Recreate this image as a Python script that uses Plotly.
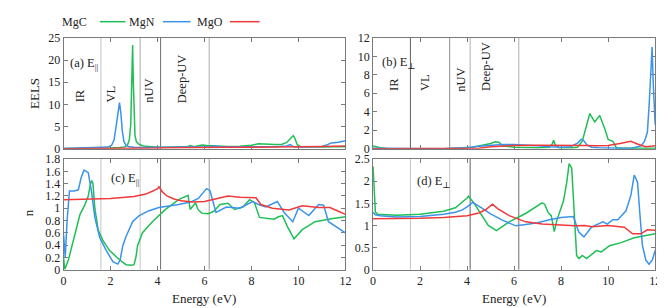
import plotly.graph_objects as go

# ---------------- data ----------------
energy_ticks = [0, 2, 4, 6, 8, 10, 12]
region_bounds = [1.59, 3.26, 4.13, 6.2]
region_names = ["IR", "VL", "nUV", "Deep-UV"]
region_pos_a = [0.70, 2.03, 3.64, 5.04]
region_pos_b = [0.90, 2.22, 3.76, 4.81]
series_names = ["MgC", "MgN", "MgO"]

# (a) EELS, E parallel
a_mgc_x = [0, 0.5, 1.0, 1.5, 2.0, 2.4, 2.6, 2.72, 2.8, 2.86, 2.9, 2.94, 2.97, 3.0, 3.04, 3.1, 3.2, 3.4, 3.7, 4.0,
           4.5, 5.0, 5.3, 5.4, 5.55, 5.7, 5.9, 6.1, 6.5, 7.0, 7.5, 8.0, 8.3, 8.6, 9.0, 9.3, 9.5, 9.7, 9.78, 9.85,
           9.95, 10.1, 10.5, 11.0, 11.5, 12.0]
a_mgc_y = [0.05, 0.05, 0.08, 0.1, 0.15, 0.25, 0.4, 0.8, 2.0, 5.5, 12.0, 23.4, 15.0, 6.5, 3.0, 1.6, 1.0, 0.6, 0.4, 0.3,
           0.3, 0.35, 0.5, 0.7, 0.45, 0.6, 0.8, 0.7, 0.55, 0.5, 0.55, 0.75, 1.1, 1.0, 0.95, 1.0, 1.4, 2.5, 2.9, 2.3,
           0.9, 0.4, 0.35, 0.35, 0.4, 0.4]
a_mgn_x = [0, 0.5, 1.0, 1.5, 1.9, 2.05, 2.15, 2.25, 2.32, 2.38, 2.44, 2.5, 2.57, 2.65, 2.8, 3.0, 3.5, 4.0, 5.0, 5.5,
           6.0, 6.3, 6.45, 6.6, 7.0, 8.0, 9.0, 9.5, 9.65, 9.8, 10.0, 10.5, 11.0, 11.2, 11.4, 11.7, 12.0]
a_mgn_y = [0.05, 0.15, 0.2, 0.25, 0.35, 0.8, 2.0, 5.5, 8.8, 10.4, 8.0, 4.0, 1.6, 0.8, 0.4, 0.3, 0.25, 0.25, 0.3, 0.4,
           0.4, 0.5, 0.65, 0.45, 0.4, 0.4, 0.45, 0.6, 0.9, 0.4, 0.35, 0.5, 0.5, 0.8, 1.3, 1.45, 1.8]
a_mgo_x = [0, 1, 2, 3, 3.5, 4.0, 4.5, 5.0, 6.0, 7.0, 8.0, 9.0, 10.0, 10.5, 11.0, 11.5, 12.0]
a_mgo_y = [0.0, 0.0, 0.0, 0.02, 0.05, 0.12, 0.2, 0.25, 0.3, 0.3, 0.3, 0.32, 0.35, 0.4, 0.5, 0.55, 0.6]

# (b) EELS, E perpendicular
b_mgc_x = [0, 0.3, 0.6, 1, 2, 3, 3.8, 4.2, 4.6, 5.0, 5.2, 5.35, 5.5, 6.0, 7.0, 7.5, 7.62, 7.68, 7.75, 7.9,
           8.5, 8.7, 8.9, 9.05, 9.22, 9.43, 9.64, 9.85, 10.0, 10.2, 10.35, 10.6, 11, 12]
b_mgc_y = [0.3, 0.1, 0.02, 0.0, 0.0, 0.0, 0.05, 0.15, 0.35, 0.55, 0.75, 0.7, 0.3, 0.15, 0.1, 0.15, 0.5, 0.9, 0.4, 0.1,
           0.1, 0.15, 0.8, 2.2, 3.8, 2.9, 3.6, 2.2, 1.0, 0.8, 0.1, 0.05, 0.05, 0.05]
b_mgn_x = [0, 1, 2, 3, 3.5, 4.0, 4.5, 5.0, 5.5, 6.0, 6.5, 7.0, 7.5, 8.0, 8.4, 8.7, 8.85, 8.95, 9.1, 9.3,
           9.6, 10, 10.5, 11.0, 11.4, 11.55, 11.67, 11.75, 11.82, 11.87, 11.92, 11.96, 12.0]
b_mgn_y = [0.05, 0.02, 0.0, 0.0, 0.05, 0.1, 0.25, 0.35, 0.45, 0.45, 0.4, 0.3, 0.2, 0.15, 0.2, 0.6, 1.0, 0.9, 0.4, 0.15,
           0.1, 0.05, 0.05, 0.05, 0.3, 0.8, 1.8, 5.0, 9.5, 11.0, 7.0, 4.0, 2.6]
b_mgo_x = [0, 1, 2, 3, 4, 4.5, 5.0, 5.5, 6.0, 7.0, 8.0, 9.0, 9.5, 10.0, 10.5, 10.97, 11.3, 11.6, 12.0]
b_mgo_y = [0.0, 0.0, 0.0, 0.0, 0.02, 0.05, 0.2, 0.3, 0.35, 0.38, 0.4, 0.35, 0.3, 0.35, 0.55, 0.8, 0.45, 0.2, 0.3]

# (c) refractive index n, E parallel
c_mgc_x = [0, 0.05, 0.2, 0.42, 0.7, 0.9, 1.05, 1.15, 1.2, 1.25, 1.33, 1.47, 1.68, 1.96, 2.38, 2.66, 2.87, 3.0, 3.08,
           3.15, 3.36, 3.78, 4.34, 4.9, 5.2, 5.3, 5.39, 5.53, 5.62, 5.72, 5.88, 6.16, 6.4, 6.66, 7.0, 7.28, 7.63,
           7.92, 8.13, 8.34, 8.68, 8.96, 9.15, 9.32, 9.53, 9.81, 10.16, 10.71, 11.4, 12.0]
c_mgc_y = [0.2, 0.0, 0.15, 0.5, 0.9, 1.05, 1.2, 1.4, 1.45, 1.4, 1.0, 0.65, 0.47, 0.31, 0.16, 0.08, 0.07, 0.08, 0.2,
           0.39, 0.6, 0.78, 0.98, 1.14, 1.2, 1.21, 0.98, 1.05, 1.09, 0.98, 0.92, 0.91, 0.95, 1.06, 1.08, 0.98, 1.02,
           1.14, 1.09, 0.85, 0.84, 0.82, 0.86, 0.88, 0.7, 0.5, 0.65, 0.78, 0.83, 0.86]
c_mgn_x = [0, 0.07, 0.15, 0.25, 0.45, 0.63, 0.75, 0.87, 1.05, 1.19, 1.33, 1.54, 1.82, 2.1, 2.31, 2.41, 2.52, 2.66,
           2.94, 3.22, 3.64, 4.06, 4.9, 5.4, 5.74, 6.09, 6.23, 6.35, 6.49, 6.93, 7.5, 8.05, 8.3, 8.61, 9.1, 9.39,
           9.76, 10.0, 10.44, 10.86, 11.07, 11.28, 11.49, 12.0]
c_mgn_y = [0.57, 0.2, 0.8, 1.28, 1.28, 1.3, 1.5, 1.62, 1.58, 1.27, 0.85, 0.52, 0.31, 0.13, 0.09, 0.16, 0.39, 0.54,
           0.78, 0.88, 0.96, 1.01, 1.06, 1.1, 1.16, 1.32, 1.29, 1.1, 0.93, 1.02, 1.0, 1.11, 1.06, 1.02, 1.11, 0.93,
           0.78, 1.0, 0.88, 1.06, 1.05, 0.78, 0.73, 0.6]
c_mgo_x = [0, 1, 2, 3, 3.5, 3.8, 4.0, 4.06, 4.2, 4.4, 4.7, 5.0, 5.5, 6.0, 6.5, 7.0, 7.5, 8.19, 8.4, 8.89, 9.6, 10.16,
           10.86, 11.34, 11.7, 12.0]
c_mgo_y = [1.14, 1.15, 1.16, 1.19, 1.23, 1.28, 1.32, 1.35, 1.27, 1.2, 1.15, 1.12, 1.1, 1.11, 1.15, 1.2, 1.18, 1.17,
           1.06, 1.0, 0.97, 1.04, 1.01, 1.01, 0.95, 0.9]

# (d) refractive index n, E perpendicular
d_mgc_x = [0, 0.05, 0.1, 0.2, 0.5, 1, 2, 3, 3.5, 3.8, 4.0, 4.06, 4.3, 4.6, 4.9, 5.25, 5.5, 5.79, 6.49, 7.19, 7.3,
           7.44, 7.58, 7.71, 7.82, 8.1, 8.24, 8.34, 8.45, 8.55, 8.66, 8.76, 8.9, 9.08, 9.5, 9.71, 10.06, 10.55,
           11.11, 12.0]
d_mgc_y = [2.34, 1.6, 1.3, 1.25, 1.24, 1.23, 1.25, 1.32, 1.4, 1.52, 1.62, 1.66, 1.5, 1.25, 1.0, 0.88, 0.97, 1.08,
           1.27, 1.51, 1.48, 1.3, 1.22, 0.86, 1.12, 1.55, 1.98, 2.4, 2.3, 1.19, 0.32, 0.25, 0.32, 0.25, 0.43, 0.4,
           0.54, 0.61, 0.72, 0.81]
d_mgn_x = [0, 0.1, 0.3, 1, 2, 3, 3.5, 3.8, 4.0, 4.24, 4.6, 5.0, 5.5, 5.9, 6.07, 6.5, 7.0, 7.5, 8.0, 8.52, 8.62,
           8.75, 8.97, 9.29, 9.78, 9.96, 10.2, 10.41, 10.76, 10.97, 11.11, 11.25, 11.36, 11.46, 11.6, 11.74,
           11.88, 12.0]
d_mgn_y = [1.3, 1.24, 1.22, 1.19, 1.2, 1.25, 1.3, 1.35, 1.42, 1.52, 1.4, 1.26, 1.12, 1.03, 0.99, 1.02, 1.06, 1.13,
           1.18, 1.2, 1.05, 0.85, 0.74, 0.96, 1.08, 1.03, 1.13, 1.13, 1.33, 1.69, 2.14, 1.98, 1.19, 0.54, 0.22,
           0.12, 0.22, 0.43]
d_mgo_x = [0, 1, 2, 3, 4, 4.5, 4.8, 5.08, 5.3, 5.79, 6.49, 7.19, 8.59, 9.0, 9.3, 10.0, 10.27, 10.69, 11.04, 11.38,
           11.67, 12.0]
d_mgo_y = [1.15, 1.15, 1.16, 1.18, 1.22, 1.28, 1.36, 1.48, 1.38, 1.22, 1.08, 1.03, 0.99, 1.0, 0.97, 1.0, 0.99, 0.96,
           0.81, 0.81, 0.9, 0.89]

# ---------------- styling ----------------
W, H = 665, 308
FONT = "'Liberation Serif', 'Times New Roman', 'DejaVu Serif', serif"
TXT = "#222222"
AXC = "#7a7a7a"
TICK_SIZE = 12
TEXT_SIZE = 12.5
colors = {"MgC": "#1fbf55", "MgN": "#3b93ec", "MgO": "#f03a3a"}

fig = go.Figure()

panels = [
    ("x", "y", [(a_mgc_x, a_mgc_y), (a_mgn_x, a_mgn_y), (a_mgo_x, a_mgo_y)]),
    ("x2", "y2", [(b_mgc_x, b_mgc_y), (b_mgn_x, b_mgn_y), (b_mgo_x, b_mgo_y)]),
    ("x3", "y3", [(c_mgc_x, c_mgc_y), (c_mgn_x, c_mgn_y), (c_mgo_x, c_mgo_y)]),
    ("x4", "y4", [(d_mgc_x, d_mgc_y), (d_mgn_x, d_mgn_y), (d_mgo_x, d_mgo_y)]),
]
for xa, ya, data in panels:
    for name, (xs, ys) in zip(series_names, data):
        fig.add_trace(go.Scatter(x=xs, y=ys, mode="lines", name=name, xaxis=xa, yaxis=ya,
                                 line=dict(color=colors[name], width=1.5), showlegend=False))

def px_x(p):
    return p / W

def px_y(p):
    return 1 - p / H

dom_left = [px_x(53.3), px_x(339)]
dom_right = [px_x(367), px_x(653)]
dom_top = [px_y(140), px_y(24)]
dom_bot = [px_y(266.7), px_y(151)]

def xaxis(domain, anchor, labels):
    return dict(domain=domain, anchor=anchor, range=[0, 12], tickvals=energy_ticks,
                showticklabels=labels, ticks="inside", ticklen=4, tickcolor=AXC,
                showline=True, linecolor=AXC, linewidth=1, mirror="allticks",
                showgrid=False, zeroline=False, layer="below traces",
                tickfont=dict(family=FONT, size=TICK_SIZE, color=TXT))

def yaxis(domain, anchor, rng, dt):
    return dict(domain=domain, anchor=anchor, range=rng, dtick=dt, tick0=0,
                ticks="inside", ticklen=4, tickcolor=AXC,
                showline=True, linecolor=AXC, linewidth=1, mirror="allticks",
                showgrid=False, zeroline=False, layer="below traces",
                tickfont=dict(family=FONT, size=TICK_SIZE, color=TXT))

fig.update_layout(
    width=W, height=H, margin=dict(l=0, r=0, t=0, b=0),
    paper_bgcolor="white", plot_bgcolor="white", showlegend=False,
    font=dict(family=FONT, size=TEXT_SIZE, color=TXT),
    xaxis=xaxis(dom_left, "y", False), yaxis=yaxis(dom_top, "x", [0, 25], 5),
    xaxis2=xaxis(dom_right, "y2", False), yaxis2=yaxis(dom_top, "x2", [0, 12], 2),
    xaxis3=xaxis(dom_left, "y3", True), yaxis3=yaxis(dom_bot, "x3", [0, 1.8], 0.2),
    xaxis4=xaxis(dom_right, "y4", True), yaxis4=yaxis(dom_bot, "x4", [0, 2.5], 0.5),
)

# region boundary lines
bound_colors = {
    "x": ["#c4c4c4", "#a8a8a8", "#6e6e6e", "#ababab"],
    "x2": ["#5f5f5f", "#8f8f8f", "#b0b0b0", "#b0b0b0"],
    "x3": ["#c4c4c4", "#c4c4c4", "#6e6e6e", "#9a9a9a"],
    "x4": ["#c4c4c4", "#c4c4c4", "#5f5f5f", "#6e6e6e"],
}
ymap = {"x": "y", "x2": "y2", "x3": "y3", "x4": "y4"}
shapes = []
for xa, cols in bound_colors.items():
    for b, c in zip(region_bounds, cols):
        shapes.append(dict(type="line", xref=xa, yref=ymap[xa] + " domain", x0=b, x1=b, y0=0, y1=1,
                           line=dict(color=c, width=1), layer="below"))

annotations = []
# region names
for xs, ya, ybase in [(region_pos_a, "y", 9.9), (region_pos_b, "y2", 6.0)]:
    xa = "x" if ya == "y" else "x2"
    for nm, xv in zip(region_names, xs):
        annotations.append(dict(text=nm, x=xv, y=ybase, xref=xa, yref=ya, textangle=-90,
                                xanchor="center", yanchor="bottom", showarrow=False,
                                font=dict(family=FONT, size=TEXT_SIZE, color=TXT)))

# panel labels
for txt, xv, yv, xa, ya in [("(a) E<sub>||</sub>", 0.2, 19.0, "x", "y"),
                            ("(b) E<sub>⊥</sub>", 0.29, 9.3, "x2", "y2"),
                            ("(c) E<sub>||</sub>", 1.92, 1.475, "x3", "y3"),
                            ("(d) E<sub>⊥</sub>", 1.8, 1.98, "x4", "y4")]:
    annotations.append(dict(text=txt, x=xv, y=yv, xref=xa, yref=ya, xanchor="left", yanchor="middle",
                            showarrow=False, font=dict(family=FONT, size=TEXT_SIZE, color=TXT)))

# axis titles
annotations.append(dict(text="EELS", x=px_x(24), y=px_y(82), xref="paper", yref="paper", textangle=-90,
                        showarrow=False, xanchor="center", yanchor="middle",
                        font=dict(family=FONT, size=13, color=TXT)))
annotations.append(dict(text="n", x=px_x(18), y=px_y(207), xref="paper", yref="paper", textangle=-90,
                        showarrow=False, xanchor="center", yanchor="middle",
                        font=dict(family=FONT, size=13, color=TXT)))
for cx in [196, 510]:
    annotations.append(dict(text="Energy (eV)", x=px_x(cx), y=px_y(297), xref="paper", yref="paper",
                            showarrow=False, xanchor="center", yanchor="middle",
                            font=dict(family=FONT, size=13, color=TXT)))

# legend (text followed by line sample)
leg_text_x = [50, 118, 187]
leg_line_x = [(90, 116), (154, 182), (222, 252)]
for nm, tx, (l0, l1) in zip(series_names, leg_text_x, leg_line_x):
    annotations.append(dict(text=nm, x=px_x(tx), y=px_y(7), xref="paper", yref="paper", showarrow=False,
                            xanchor="left", yanchor="middle", font=dict(family=FONT, size=12, color=TXT)))
    shapes.append(dict(type="line", xref="paper", yref="paper", x0=px_x(l0), x1=px_x(l1),
                       y0=px_y(7), y1=px_y(7), line=dict(color=colors[nm], width=1.5)))

fig.update_layout(shapes=shapes, annotations=annotations)
fig.write_html("out.html")
